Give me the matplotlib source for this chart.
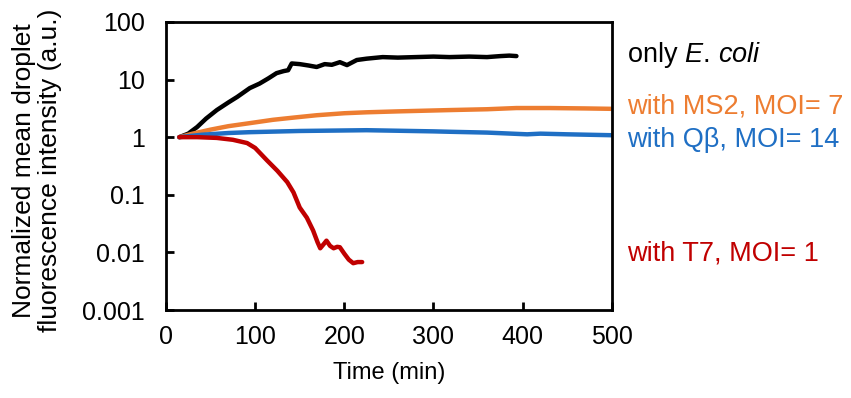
import numpy as np
import matplotlib.pyplot as plt

plt.rcParams['font.family'] = ['Liberation Sans', 'DejaVu Sans']
plt.rcParams['mathtext.fontset'] = 'custom'
plt.rcParams['mathtext.rm'] = 'Liberation Sans'
plt.rcParams['mathtext.it'] = 'Liberation Sans:italic'

# values
ecoli_t = [15, 25, 35, 45, 57, 70, 80, 94, 105, 115, 124, 132, 137, 141, 150, 160, 169,
           178, 186, 195, 203, 214, 225, 243, 260, 280, 300, 318, 340, 360, 375, 385, 393]
ecoli_y = [1.0, 1.15, 1.5, 2.1, 2.95, 4.0, 5.0, 7.1, 8.5, 10.5, 12.9, 14.0, 14.5, 19.0, 18.5,
           17.5, 16.5, 18.5, 18.0, 20.0, 17.8, 21.8, 23.0, 24.5, 24.0, 24.5, 25.0, 24.5, 25.0,
           24.5, 25.5, 26.0, 25.5]

ms2_t = [15, 30, 50, 70, 94, 120, 145, 169, 200, 225, 260, 318, 360, 393, 430, 470, 500]
ms2_y = [1.0, 1.15, 1.35, 1.55, 1.75, 2.0, 2.2, 2.4, 2.6, 2.7, 2.8, 2.95, 3.05, 3.2, 3.2, 3.15, 3.1]

qb_t = [15, 40, 70, 94, 150, 225, 300, 318, 360, 405, 420, 450, 500]
qb_y = [1.0, 1.1, 1.18, 1.22, 1.28, 1.32, 1.26, 1.24, 1.2, 1.12, 1.15, 1.12, 1.08]

t7_t = [15, 35, 57, 75, 91, 100, 113, 125, 136, 143, 150, 158, 165, 170, 173, 177, 180,
        184, 188, 192, 195, 200, 205, 210, 215, 220]
t7_y = [1.0, 1.0, 0.97, 0.9, 0.79, 0.65, 0.4, 0.26, 0.166, 0.11, 0.06, 0.04, 0.024, 0.015,
        0.0118, 0.014, 0.016, 0.013, 0.0118, 0.0125, 0.0123, 0.0095, 0.0075, 0.0065, 0.0068,
        0.0068]

labels = ["only $\\it{E.\\,coli}$", "with MS2, MOI= 7", "with Q\u03b2, MOI= 14", "with T7, MOI= 1"]
label_y = [20.0, 2.6, 0.67, 0.0073]
colors = ["black", "#ED7D31", "#1F6FC4", "#C00000"]

series = [(ecoli_t, ecoli_y), (ms2_t, ms2_y), (qb_t, qb_y), (t7_t, t7_y)]

fig = plt.figure(figsize=(8.51, 3.98), dpi=100)
ax = fig.add_axes([0.195, 0.221, 0.524, 0.724])

for (t, y), c in zip(series, colors):
    ax.plot(t, y, color=c, lw=3.2, solid_capstyle='round')

ax.set_yscale('log')
ax.set_ylim(0.001, 100)
ax.set_xlim(0, 500)
ax.set_xticks([0, 100, 200, 300, 400, 500])
ax.set_yticks([0.001, 0.01, 0.1, 1, 10, 100])
ax.set_yticklabels(["0.001", "0.01", "0.1", "1", "10", "100"])
ax.minorticks_off()
ax.tick_params(direction='in', length=6, width=2, labelsize=18)
ax.tick_params(axis='y', pad=15)
ax.tick_params(axis='x', pad=11)
for s in ax.spines.values():
    s.set_linewidth(2)

ax.set_xlabel("Time (min)", fontsize=17, labelpad=9)
ax.set_ylabel("Normalized mean droplet\nfluorescence intensity (a.u.)", fontsize=19,
              linespacing=1.12)
ax.yaxis.set_label_coords(-0.233, 0.485)

for lab, ly, c in zip(labels, label_y, colors):
    ax.text(1.034, ly, lab, color=c, fontsize=19.5, va='baseline', ha='left',
            transform=ax.get_yaxis_transform())

fig.savefig("out.png", dpi=100)
